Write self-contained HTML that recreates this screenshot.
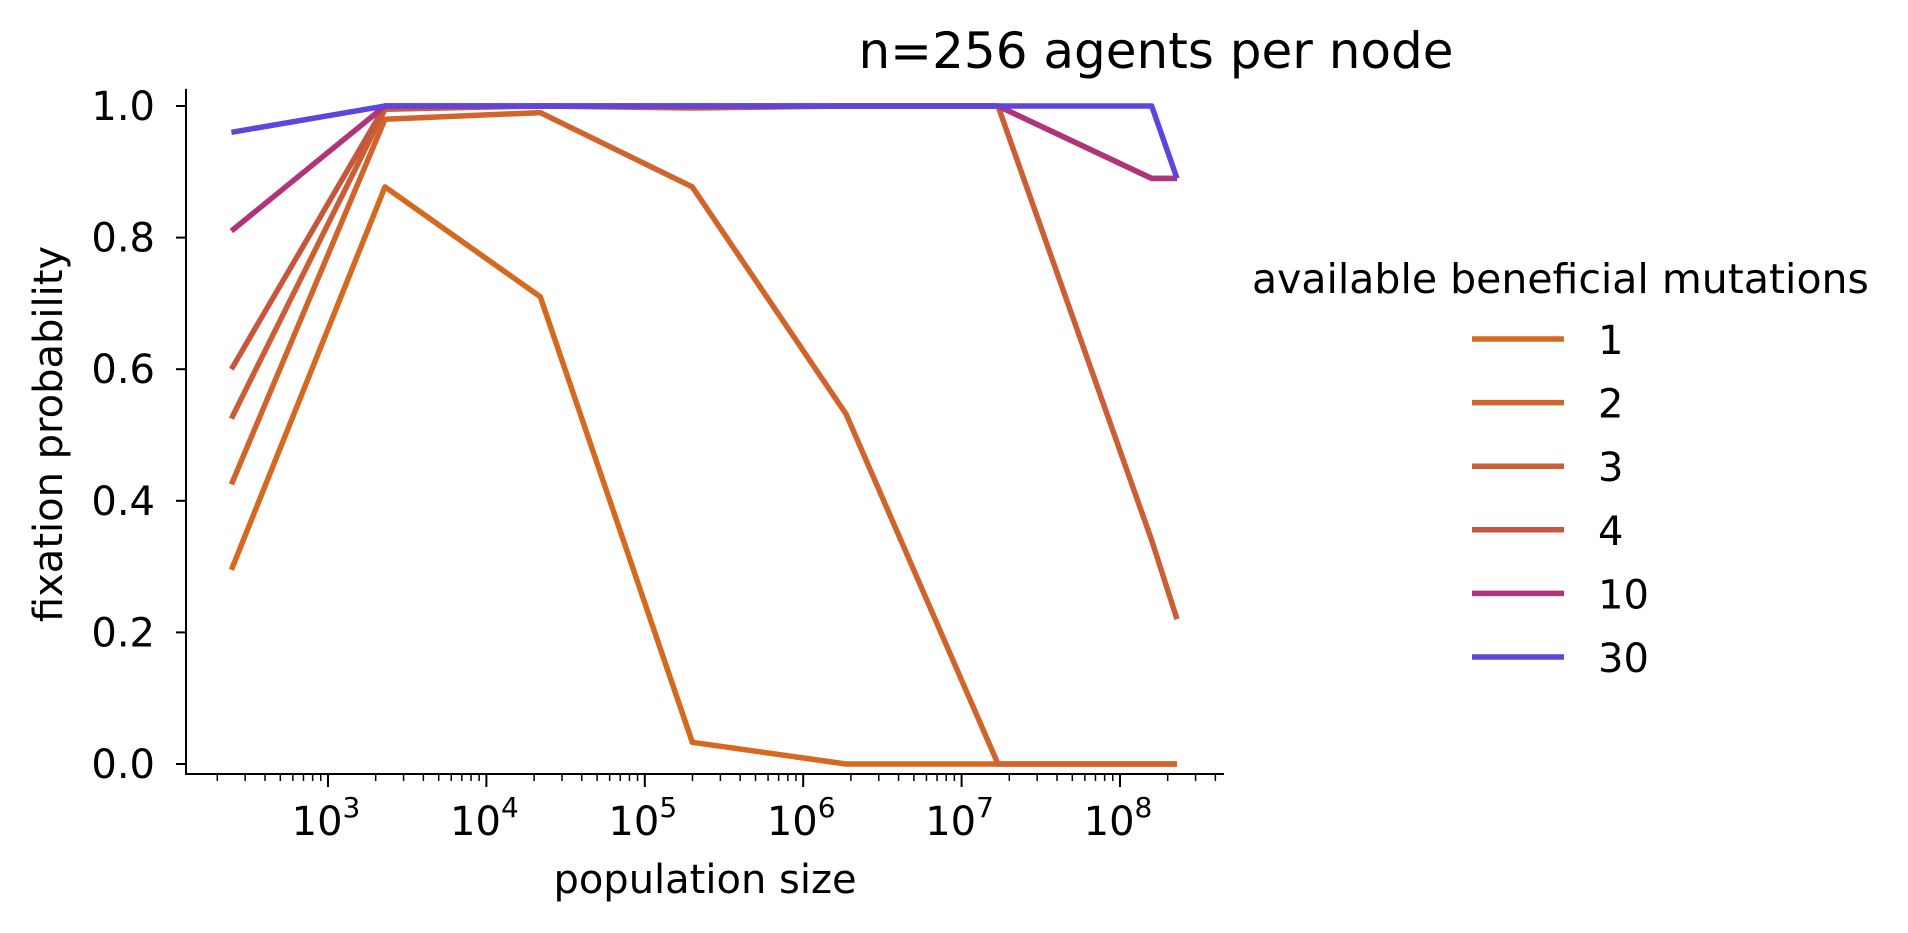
<!DOCTYPE html>
<html><head><meta charset="utf-8"><style>
html,body{margin:0;padding:0;background:#fff;}
svg{display:block;font-family:"DejaVu Sans","Liberation Sans",sans-serif;}
</style></head><body>
<svg id="chart" width="1908" height="933" viewBox="0 0 1908 933" xmlns="http://www.w3.org/2000/svg">
<text x="1156" y="68" font-size="50" text-anchor="middle">n=256 agents per node</text>
<g id="plot"></g>
<text x="705" y="893" font-size="40" text-anchor="middle">population size</text>
<text transform="translate(62,434) rotate(-90)" font-size="40" text-anchor="middle">fixation probability</text>
<text x="1252" y="293" font-size="41">available beneficial mutations</text>
<g id="legend"></g>
</svg>
<script>
const xLog = [2.39, 3.36, 4.34, 5.30, 6.27, 7.23, 8.20, 8.36];
const seriesNames = ["1","2","3","4","10","30"];
const s1 = [0.295, 0.877, 0.71, 0.033, 0.0, 0.0, 0.0, 0.0];
const s2 = [0.425, 0.98, 0.99, 0.877, 0.532, 0.0, 0.0, 0.0];
const s3 = [0.525, 0.995, 1.0, 0.997, 1.0, 1.0, 0.34, 0.22];
const s4 = [0.6, 1.0, 1.0, 1.0, 1.0, 1.0, 0.89, 0.89];
const s10 = [0.81, 1.0, 1.0, 1.0, 1.0, 1.0, 0.89, 0.89];
const s30 = [0.96, 1.0, 1.0, 1.0, 1.0, 1.0, 1.0, 0.89];
const yTicks = [0.0, 0.2, 0.4, 0.6, 0.8, 1.0];
const xTickExps = [3,4,5,6,7,8];
const colors = ["#d4691f","#d0642a","#cb5e35","#c6573d","#b0347a","#5e45dc"];
const allSeries = [s1,s2,s3,s4,s10,s30];

const NS="http://www.w3.org/2000/svg";
const plot=document.getElementById('plot');
const X0=186, X1=1224, YB=774;
const xs=l=>328+(l-3)*158.4;
const ys=v=>764-v*658;
function mk(tag,attrs,parent){const e=document.createElementNS(NS,tag);for(const k in attrs)e.setAttribute(k,attrs[k]);parent.appendChild(e);return e;}

const spines=mk('path',{d:`M${X0},${ys(1.02)-4} V${YB} H${X1}`,stroke:'#000','stroke-width':2,fill:'none'},plot);



yTicks.forEach(v=>{
  const t=mk('line',{x1:X0-10,x2:X0,y1:ys(v),y2:ys(v),stroke:'#000','stroke-width':2},plot);
  
  
  const lb=mk('text',{x:155,y:ys(v)+14,'font-size':40,'text-anchor':'end'},plot);
  lb.textContent=v.toFixed(1);
  
  
});
const lmin=(X0-328)/158.4+3, lmax=(X1-328)/158.4+3;
for(let e=2;e<=8;e++){for(let m=1;m<10;m++){const l=e+Math.log10(m);if(l<lmin||l>lmax)continue;
  const major=m===1;
  const t=mk('line',{x1:xs(l),x2:xs(l),y1:YB,y2:YB+(major?13:7),stroke:'#000','stroke-width':major?2:1.5},plot);
  
  
}}
xTickExps.forEach(e=>{
  const lb=mk('text',{x:xs(e)-2,y:835,'font-size':40,'text-anchor':'middle'},plot);
  
  
  lb.appendChild(document.createTextNode('10'));
  const sp=mk('tspan',{dy:-18,'font-size':28},lb);sp.textContent=String(e);
});
allSeries.forEach((s,i)=>{
  const d=s.map((v,j)=>(j?'L':'M')+xs(xLog[j]).toFixed(1)+','+ys(v).toFixed(1)).join(' ');
  const p=mk('path',{d:d,stroke:colors[i],'stroke-width':5.5,fill:'none','stroke-linejoin':'round'},plot);
  
  
});
const lg=document.getElementById('legend');
seriesNames.forEach((n,i)=>{
  const y=339+i*63.6;
  const ln=mk('line',{x1:1472,x2:1564,y1:y,y2:y,stroke:colors[i],'stroke-width':5.5},lg);
  
  
  const t=mk('text',{x:1598,y:y+15,'font-size':40},lg);
  t.textContent=n;
  
  
});
</script>
</body></html>
